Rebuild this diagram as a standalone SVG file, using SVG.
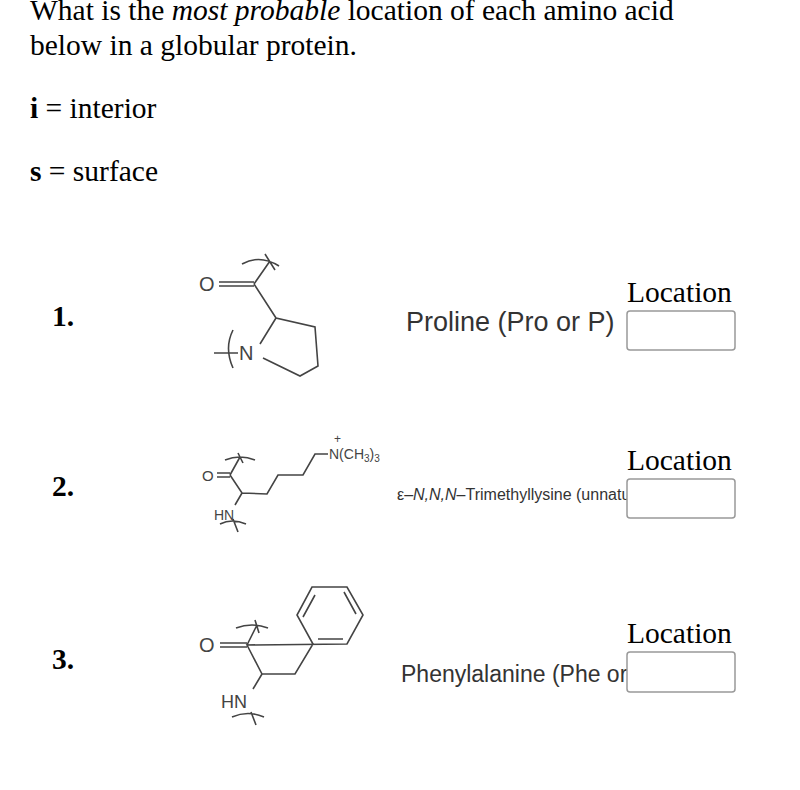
<svg xmlns="http://www.w3.org/2000/svg" width="800" height="790" viewBox="0 0 800 790">
<style>
.t{font-family:"Liberation Serif",serif;font-size:29.5px;fill:#000}
.b{font-weight:bold}
.s{font-family:"Liberation Sans",sans-serif;fill:#333}
.m{fill:none;stroke:#444;stroke-width:1.6}
.a{font-family:"Liberation Sans",sans-serif;fill:#444}
.box{fill:#fff;stroke:#999;stroke-width:1.5}
</style>
<rect width="800" height="790" fill="#fff"/>
<text class="t" x="30" y="20">What is the <tspan font-style="italic">most probable</tspan> location of each amino acid</text>
<text class="t" x="30" y="55">below in a globular protein.</text>
<text class="t" x="30" y="118"><tspan class="b">i</tspan> = interior</text>
<text class="t" x="30" y="181"><tspan class="b">s</tspan> = surface</text>
<g id="n1">
<text class="t b" x="52" y="326">1.</text>
<path class="m" d="M219,282 H254 M219,286 H254 M254,284 L270,261 M254,284 L276,318 L315,327 L318,366 L300,376 L263,358 M276,318 L260,344 M214,353 H238 M242,264 Q260,254 279,266 M265,254 L275,270 M233,330 Q224,348 233,368"/>
<text class="a" x="199" y="291" font-size="20">O</text>
<text class="a" x="239" y="360" font-size="20">N</text>
<text class="s" x="406" y="331" font-size="27">Proline (Pro or P)</text>
<text class="t" x="627" y="302">Location</text>
<rect class="box" x="627" y="311" width="108" height="39" rx="3"/>
</g>
<g id="n2">
<text class="t b" x="52" y="496">2.</text>
<path class="m" d="M217,473 H230 M217,477 H230 M230,475 L240,457 M230,475 L242,493 L267,494 L278,475 L303,475 L315,454 L328,454 M242,493 L235,505 M225,460 Q240,454 255,460 M238,453 L243,463 M220,524 Q232,518 246,524 M233,519 L238,532"/>
<text class="a" x="202" y="481" font-size="15">O</text>
<text class="a" x="214" y="520" font-size="14">HN</text>
<text class="a" x="329" y="459" font-size="14">N(CH<tspan font-size="10" dy="3">3</tspan><tspan dy="-3">)</tspan><tspan font-size="10" dy="3">3</tspan></text>
<text class="a" x="334" y="443" font-size="12">+</text>
<text class="s" x="397" y="500" font-size="16">ε–<tspan font-style="italic">N,N,N</tspan>–Trimethyllysine (unnatural)</text>
<text class="t" x="627" y="470">Location</text>
<rect class="box" x="627" y="479" width="108" height="39" rx="3"/>
</g>
<g id="n3">
<text class="t b" x="52" y="669">3.</text>
<path class="m" d="M220,643 H247 M220,647 H247 M247,645 L257,625 M247,645 L262,674 L295,674 L313,644 L297,615 L312,587 L347,587 L363,615 L347,644 Z M303,617 L315,595 M344,592 L356,614 M318,639 L343,639 M262,674 L253,689 M236,628 Q252,622 268,628 M255,620 L259,633 M232,717 Q248,710 264,717 M251,712 L256,725"/>
<text class="a" x="199" y="652" font-size="20">O</text>
<text class="a" x="221" y="708" font-size="18">HN</text>
<text class="s" x="401" y="682" font-size="23">Phenylalanine (Phe or F)</text>
<text class="t" x="627" y="643">Location</text>
<rect class="box" x="627" y="652" width="108" height="40" rx="3"/>
</g>
</svg>
